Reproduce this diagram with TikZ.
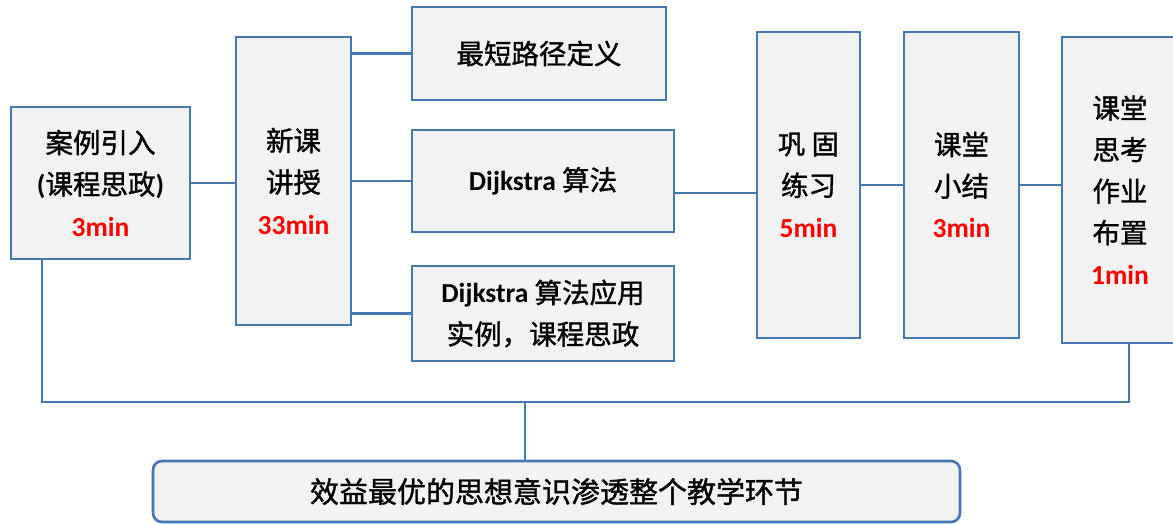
\documentclass[tikz,border=0pt]{standalone}
\usepackage{fontspec}
\setmainfont{Carlito}
\newfontfamily\cjk[FakeBold=1.2]{Noto Sans CJK SC}
\definecolor{bd}{HTML}{4677B2}
\definecolor{bg}{HTML}{F2F2F2}
\definecolor{rd}{HTML}{FF0000}
\newcommand\redmin[1]{{\rmfamily\bfseries\color{rd}#1}}
\newcommand\lat[1]{{\rmfamily\bfseries #1}}
\begin{document}
\begin{tikzpicture}[x=1pt,y=-1pt,
  box/.style={draw=bd,fill=bg,line width=2.6pt,inner sep=0pt,align=center,
    font=\fontsize{27.5}{41.5}\selectfont\cjk},
  conn/.style={draw=bd,line width=2.6pt}]
\useasboundingbox (0,0) rectangle (1173,524);
\node[box,minimum width=179pt,minimum height=152pt] (A) at (100.5,183)
  {案例引入\\\lat{(}课程思政\lat{)}\\\redmin{3min}};
\node[box,minimum width=115pt,minimum height=288pt] (B) at (293.5,181)
  {新课\\讲授\\\redmin{33min}};
\node[box,minimum width=254pt,minimum height=93pt] (C) at (539,53.5)
  {最短路径定义};
\node[box,minimum width=262pt,minimum height=102pt] (D) at (543,181)
  {\lat{Dijkstra} 算法};
\node[box,minimum width=262pt,minimum height=95pt] (E) at (543,313.5)
  {\lat{Dijkstra} 算法应用\\实例，课程思政};
\node[box,minimum width=103pt,minimum height=306pt] (F) at (808.5,185)
  {巩 固\\练习\\\redmin{5min}};
\node[box,minimum width=115pt,minimum height=306pt] (G) at (961.5,185)
  {课堂\\小结\\\redmin{3min}};
\node[box,minimum width=116pt,minimum height=306pt] (H) at (1120,190)
  {课堂\\思考\\作业\\布置\\\redmin{1min}};
\node[box,rounded corners=9pt,minimum width=807pt,minimum height=61pt,
  font=\fontsize{29}{34}\selectfont\cjk] (Z) at (556.5,491.5)
  {效益最优的思想意识渗透整个教学环节};
\coordinate (j) at (525,402);
\draw[conn] (A.east) -- (A.east -| B.west);
\draw[conn] (B.east |- C.west) -- (C.west);
\draw[conn] (B.east |- D.west) -- (D.west);
\draw[conn] (B.east |- E.west) -- (E.west);
\draw[conn] ([yshift=-12pt]D.east) -- ([yshift=-12pt]D.east -| F.west);
\draw[conn] (F.east) -- (G.west);
\draw[conn] (G.east) -- (G.east -| H.west);
\draw[conn] ([xshift=-58.5pt]A.south) |- (j);
\draw[conn] ([xshift=9pt]H.south) |- (j);
\draw[conn] (j) -- (j |- Z.north);
\end{tikzpicture}
\end{document}
